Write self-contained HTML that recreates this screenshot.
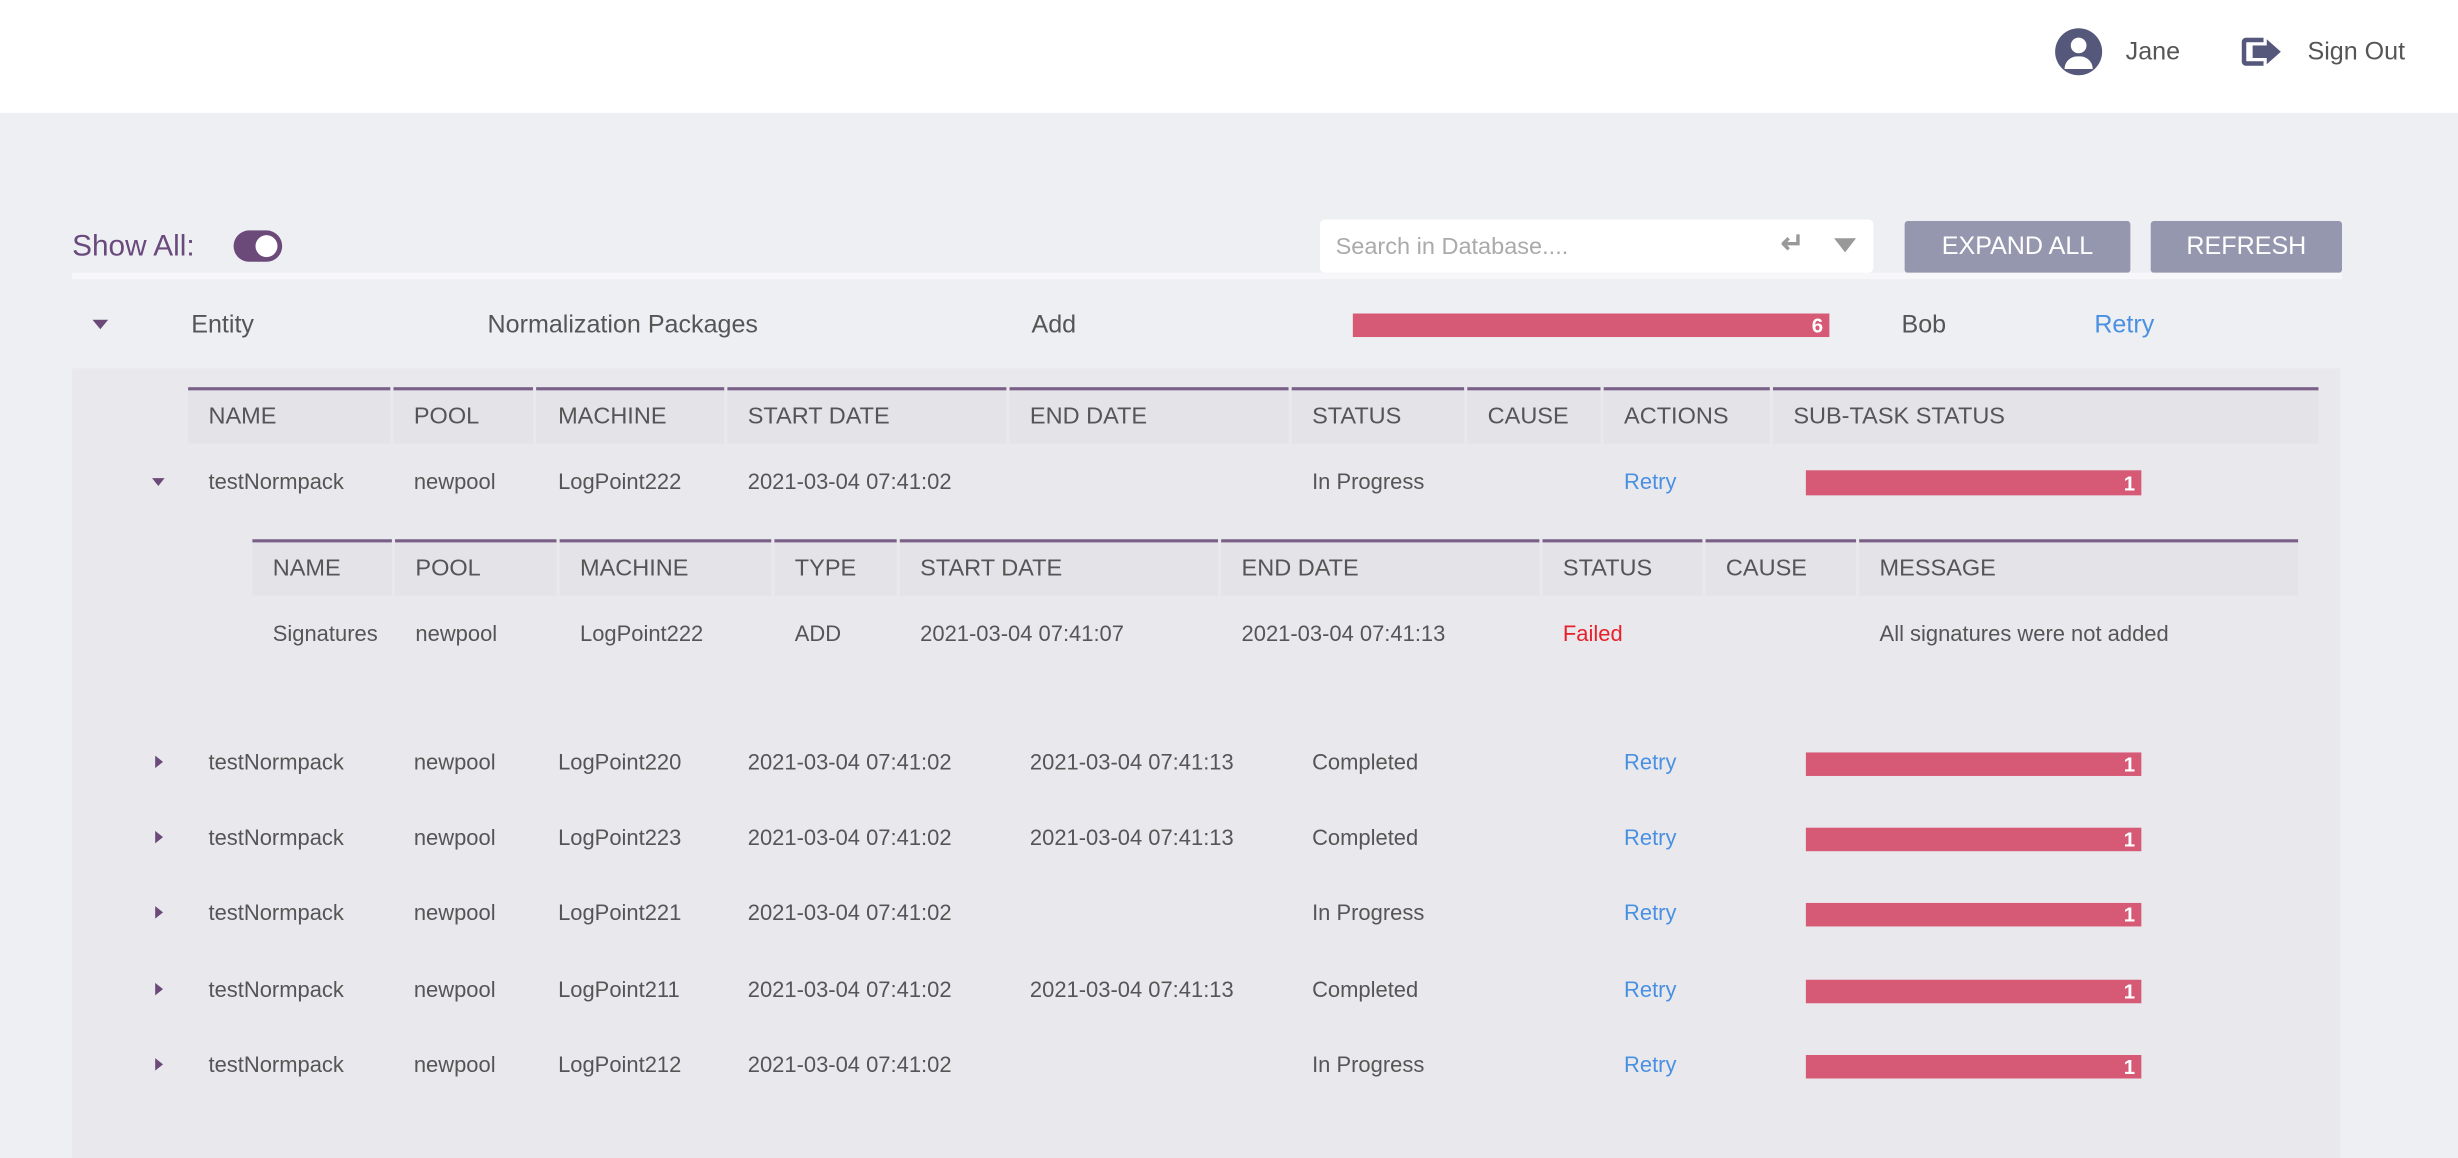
<!DOCTYPE html>
<html><head><style>
html,body{margin:0;padding:0;}
body{width:2458px;height:1158px;overflow:hidden;background:#eeeff3;font-family:"Liberation Sans",sans-serif;}
#s{position:absolute;left:0;top:0;width:1568px;height:739px;transform:scale(1.5676);transform-origin:0 0;background:#eeeff3;}
.a{position:absolute;white-space:nowrap;}
.t{color:#555;font-size:14px;line-height:14px;}
.h{color:#555;font-size:15px;line-height:15px;}
.b{position:absolute;background:#d65a75;color:#fff;font-size:13px;font-weight:bold;text-align:right;box-sizing:border-box;padding-right:4px;}
.hc{position:absolute;background:#e3e3e8;border-top:2px solid #7a6088;box-sizing:border-box;}
.r{color:#4a90e2;}
</style></head><body><div id="s">
<div class="a" style="left:0;top:0;width:1568px;height:72px;background:#fff"></div>
<div class="a" style="left:1311px;top:18px;width:30px;height:30px;border-radius:50%;background:#55587a"></div>
<div class="a" style="left:1321px;top:24px;width:10px;height:10px;border-radius:50%;background:#fff"></div>
<div class="a" style="left:1317px;top:36px;width:18px;height:8px;border-radius:9px 9px 0 0;background:#fff"></div>
<div class="a" style="left:1356px;top:25px;font-size:16px;color:#555">Jane</div>
<div class="a" style="left:1430px;top:24px;width:14px;height:18px;border:3px solid #55587a;border-right:none;border-radius:3px 0 0 3px;box-sizing:border-box"></div>
<div class="a" style="left:1437px;top:29px;width:10px;height:8px;background:#55587a"></div>
<div class="a" style="left:1446px;top:25px;width:0;height:0;border-top:8px solid transparent;border-bottom:8px solid transparent;border-left:9px solid #55587a"></div>
<div class="a" style="left:1472px;top:25px;font-size:16px;color:#555">Sign Out</div>

<div class="a" style="left:46px;top:147px;font-size:19px;color:#6a4a7c">Show All:</div>
<div class="a" style="left:149px;top:147px;width:31px;height:20px;border-radius:10px;background:#6b4a7a"></div>
<div class="a" style="left:163px;top:150px;width:14px;height:14px;border-radius:50%;background:#fff"></div>

<div class="a" style="left:842px;top:140px;width:353px;height:34px;background:#fff;border-radius:3px"></div>
<div class="a" style="left:852px;top:149px;font-size:15px;color:#aaa">Search in Database....</div>
<div class="a" style="left:1136px;top:145px;font-size:18px;color:#999;font-weight:bold">↵</div>
<div class="a" style="left:1170px;top:152px;width:0;height:0;border-left:7px solid transparent;border-right:7px solid transparent;border-top:9px solid #999"></div>
<div class="a" style="left:1215px;top:141px;width:144px;height:33px;background:#9497ae;border-radius:2px;color:#fff;font-size:16px;text-align:center;line-height:33px">EXPAND ALL</div>
<div class="a" style="left:1372px;top:141px;width:122px;height:33px;background:#9497ae;border-radius:2px;color:#fff;font-size:16px;text-align:center;line-height:33px">REFRESH</div>
<div class="a" style="left:46px;top:174px;width:1448px;height:4px;background:#f7f7f9"></div>

<div class="a" style="left:59px;top:204px;width:0;height:0;border-left:5px solid transparent;border-right:5px solid transparent;border-top:6px solid #6b4a7a"></div>
<div class="a" style="left:122px;top:199px;font-size:16px;color:#555">Entity</div>
<div class="a" style="left:311px;top:199px;font-size:16px;color:#555">Normalization Packages</div>
<div class="a" style="left:658px;top:199px;font-size:16px;color:#555">Add</div>
<div class="b" style="left:863px;top:200px;width:304px;height:15px;line-height:15px">6</div>
<div class="a" style="left:1213px;top:199px;font-size:16px;color:#555">Bob</div>
<div class="a r" style="left:1336px;top:199px;font-size:16px">Retry</div>

<div class="a" style="left:46px;top:235px;width:1447px;height:504px;background:#e9e9ed"></div>

<div class="hc" style="left:120px;top:247px;width:129px;height:36px"></div>
<div class="hc" style="left:251px;top:247px;width:89px;height:36px"></div>
<div class="hc" style="left:342px;top:247px;width:120px;height:36px"></div>
<div class="hc" style="left:464px;top:247px;width:178px;height:36px"></div>
<div class="hc" style="left:644px;top:247px;width:178px;height:36px"></div>
<div class="hc" style="left:824px;top:247px;width:110px;height:36px"></div>
<div class="hc" style="left:936px;top:247px;width:85px;height:36px"></div>
<div class="hc" style="left:1023px;top:247px;width:106px;height:36px"></div>
<div class="hc" style="left:1131px;top:247px;width:348px;height:36px"></div>
<div class="a h" style="left:133px;top:258px">NAME</div>
<div class="a h" style="left:264px;top:258px">POOL</div>
<div class="a h" style="left:356px;top:258px">MACHINE</div>
<div class="a h" style="left:477px;top:258px">START DATE</div>
<div class="a h" style="left:657px;top:258px">END DATE</div>
<div class="a h" style="left:837px;top:258px">STATUS</div>
<div class="a h" style="left:949px;top:258px">CAUSE</div>
<div class="a h" style="left:1036px;top:258px">ACTIONS</div>
<div class="a h" style="left:1144px;top:258px">SUB-TASK STATUS</div>

<div class="a" style="left:97px;top:305px;width:0;height:0;border-left:4px solid transparent;border-right:4px solid transparent;border-top:5px solid #6b4a7a"></div>
<div class="a t" style="left:133px;top:300px">testNormpack</div>
<div class="a t" style="left:264px;top:300px">newpool</div>
<div class="a t" style="left:356px;top:300px">LogPoint222</div>
<div class="a t" style="left:477px;top:300px">2021-03-04 07:41:02</div>
<div class="a t" style="left:837px;top:300px">In Progress</div>
<div class="a t r" style="left:1036px;top:300px">Retry</div>
<div class="b" style="left:1152px;top:300px;width:214px;height:16px;line-height:17px">1</div>

<div class="hc" style="left:161px;top:344px;width:89px;height:36px"></div>
<div class="hc" style="left:252px;top:344px;width:103px;height:36px"></div>
<div class="hc" style="left:357px;top:344px;width:135px;height:36px"></div>
<div class="hc" style="left:494px;top:344px;width:78px;height:36px"></div>
<div class="hc" style="left:574px;top:344px;width:203px;height:36px"></div>
<div class="hc" style="left:779px;top:344px;width:203px;height:36px"></div>
<div class="hc" style="left:984px;top:344px;width:102px;height:36px"></div>
<div class="hc" style="left:1088px;top:344px;width:96px;height:36px"></div>
<div class="hc" style="left:1186px;top:344px;width:280px;height:36px"></div>
<div class="a h" style="left:174px;top:355px">NAME</div>
<div class="a h" style="left:265px;top:355px">POOL</div>
<div class="a h" style="left:370px;top:355px">MACHINE</div>
<div class="a h" style="left:507px;top:355px">TYPE</div>
<div class="a h" style="left:587px;top:355px">START DATE</div>
<div class="a h" style="left:792px;top:355px">END DATE</div>
<div class="a h" style="left:997px;top:355px">STATUS</div>
<div class="a h" style="left:1101px;top:355px">CAUSE</div>
<div class="a h" style="left:1199px;top:355px">MESSAGE</div>

<div class="a t" style="left:174px;top:397px">Signatures</div>
<div class="a t" style="left:265px;top:397px">newpool</div>
<div class="a t" style="left:370px;top:397px">LogPoint222</div>
<div class="a t" style="left:507px;top:397px">ADD</div>
<div class="a t" style="left:587px;top:397px">2021-03-04 07:41:07</div>
<div class="a t" style="left:792px;top:397px">2021-03-04 07:41:13</div>
<div class="a t" style="left:997px;top:397px;color:#e8202a">Failed</div>
<div class="a t" style="left:1199px;top:397px">All signatures were not added</div>

<!-- rows -->
<div class="a" style="left:99px;top:482px;border-top:4px solid transparent;border-bottom:4px solid transparent;border-left:5px solid #6b4a7a"></div>
<div class="a t" style="left:133px;top:479px">testNormpack</div><div class="a t" style="left:264px;top:479px">newpool</div><div class="a t" style="left:356px;top:479px">LogPoint220</div><div class="a t" style="left:477px;top:479px">2021-03-04 07:41:02</div><div class="a t" style="left:657px;top:479px">2021-03-04 07:41:13</div><div class="a t" style="left:837px;top:479px">Completed</div><div class="a t r" style="left:1036px;top:479px">Retry</div>
<div class="b" style="left:1152px;top:480px;width:214px;height:15px;line-height:16px">1</div>

<div class="a" style="left:99px;top:530px;border-top:4px solid transparent;border-bottom:4px solid transparent;border-left:5px solid #6b4a7a"></div>
<div class="a t" style="left:133px;top:527px">testNormpack</div><div class="a t" style="left:264px;top:527px">newpool</div><div class="a t" style="left:356px;top:527px">LogPoint223</div><div class="a t" style="left:477px;top:527px">2021-03-04 07:41:02</div><div class="a t" style="left:657px;top:527px">2021-03-04 07:41:13</div><div class="a t" style="left:837px;top:527px">Completed</div><div class="a t r" style="left:1036px;top:527px">Retry</div>
<div class="b" style="left:1152px;top:528px;width:214px;height:15px;line-height:16px">1</div>

<div class="a" style="left:99px;top:578px;border-top:4px solid transparent;border-bottom:4px solid transparent;border-left:5px solid #6b4a7a"></div>
<div class="a t" style="left:133px;top:575px">testNormpack</div><div class="a t" style="left:264px;top:575px">newpool</div><div class="a t" style="left:356px;top:575px">LogPoint221</div><div class="a t" style="left:477px;top:575px">2021-03-04 07:41:02</div><div class="a t" style="left:837px;top:575px">In Progress</div><div class="a t r" style="left:1036px;top:575px">Retry</div>
<div class="b" style="left:1152px;top:576px;width:214px;height:15px;line-height:16px">1</div>

<div class="a" style="left:99px;top:627px;border-top:4px solid transparent;border-bottom:4px solid transparent;border-left:5px solid #6b4a7a"></div>
<div class="a t" style="left:133px;top:624px">testNormpack</div><div class="a t" style="left:264px;top:624px">newpool</div><div class="a t" style="left:356px;top:624px">LogPoint211</div><div class="a t" style="left:477px;top:624px">2021-03-04 07:41:02</div><div class="a t" style="left:657px;top:624px">2021-03-04 07:41:13</div><div class="a t" style="left:837px;top:624px">Completed</div><div class="a t r" style="left:1036px;top:624px">Retry</div>
<div class="b" style="left:1152px;top:625px;width:214px;height:15px;line-height:16px">1</div>

<div class="a" style="left:99px;top:675px;border-top:4px solid transparent;border-bottom:4px solid transparent;border-left:5px solid #6b4a7a"></div>
<div class="a t" style="left:133px;top:672px">testNormpack</div><div class="a t" style="left:264px;top:672px">newpool</div><div class="a t" style="left:356px;top:672px">LogPoint212</div><div class="a t" style="left:477px;top:672px">2021-03-04 07:41:02</div><div class="a t" style="left:837px;top:672px">In Progress</div><div class="a t r" style="left:1036px;top:672px">Retry</div>
<div class="b" style="left:1152px;top:673px;width:214px;height:15px;line-height:16px">1</div>
</div></body></html>
